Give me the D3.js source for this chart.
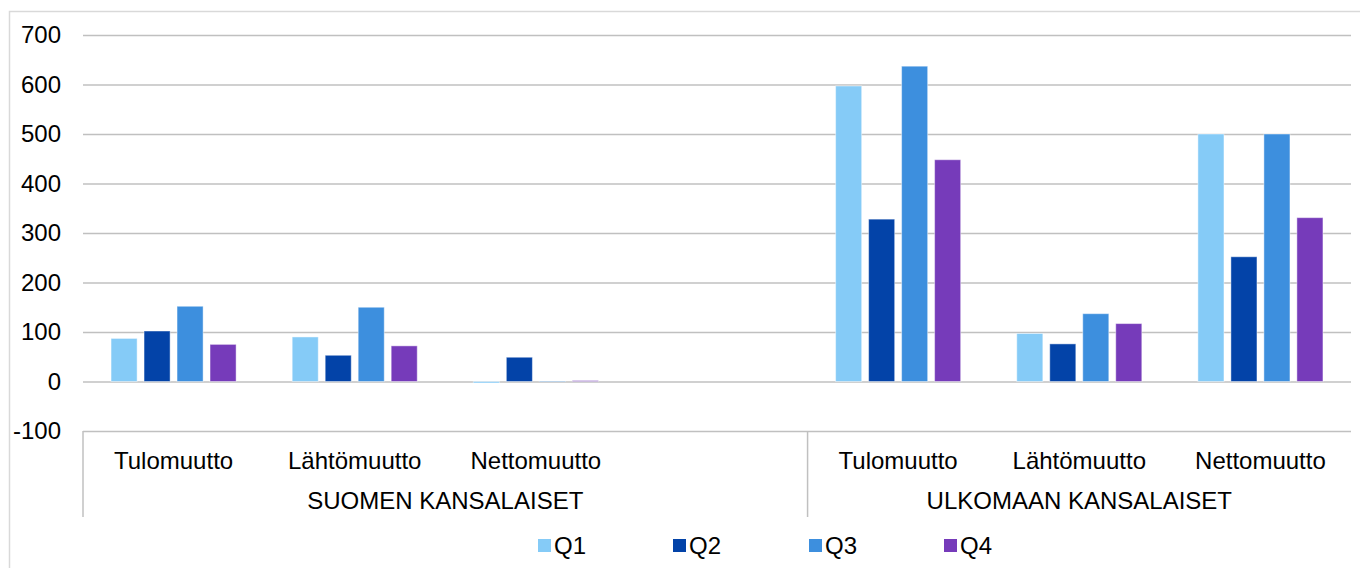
<!DOCTYPE html>
<html>
<head>
<meta charset="utf-8">
<script src="https://cdn.jsdelivr.net/npm/d3@7"></script>
<style>
  body { margin: 0; background: #fff; }
  svg text { font-family: "Liberation Sans", Arial, sans-serif; fill: #000; }
</style>
</head>
<body>
<svg id="chart" width="1360" height="568"></svg>
<script>
// categories (blank slot separates the two groups)
var categories = ['Tulomuutto', 'Lähtömuutto', 'Nettomuutto', '', 'Tulomuutto', 'Lähtömuutto', 'Nettomuutto']
var groups = ['SUOMEN KANSALAISET', 'ULKOMAAN KANSALAISET']
var groupSpans = [4, 3]
var seriesNames = ['Q1', 'Q2', 'Q3', 'Q4']
var q1 = [87, 90, -3, null, 597, 97, 500]
var q2 = [102, 53, 49, null, 328, 76, 252]
var q3 = [152, 150, 1, null, 637, 137, 500]
var q4 = [75, 72, 2, null, 448, 117, 331]
var yTicks = [-100, 0, 100, 200, 300, 400, 500, 600, 700]
var colors = ['#85cbf7', '#0343a8', '#3d8fde', '#763bba']

var series = [q1, q2, q3, q4]

var svg = d3.select('#chart')
var plotLeft = 83, plotRight = 1351, plotTop = 35, plotBottom = 431

// outer frame
svg.append('rect')
  .attr('x', 9.5).attr('y', 11.5)
  .attr('width', 1360).attr('height', 600)
  .attr('fill', 'none')
  .attr('stroke', '#d9d9d9')
  .attr('stroke-width', 1.5)

var y = d3.scaleLinear().domain([-100, 700]).range([plotBottom, plotTop])
var x = d3.scaleBand().domain(d3.range(categories.length)).range([plotLeft, plotRight])
var xInner = d3.scaleBand().domain(d3.range(seriesNames.length))
  .range([0, x.bandwidth()])
  .paddingInner(0.21)
  .paddingOuter(0.85)

// gridlines + y labels (plain hyphen for negatives, like the original)
var yAxis = svg.append('g')
  .attr('transform', 'translate(' + plotLeft + ',0)')
  .call(d3.axisLeft(y).tickValues(yTicks)
    .tickFormat(function (d) { return String(d) })
    .tickSize(-(plotRight - plotLeft)).tickPadding(22))
yAxis.select('.domain').remove()
yAxis.selectAll('line').attr('stroke', '#c0c0c0').attr('stroke-width', 1.5)
yAxis.selectAll('text')
  .style('font-size', '24px')
  .style('font-family', '"Liberation Sans", Arial, sans-serif')
  .attr('fill', '#000')

// bars
series.forEach(function (vals, si) {
  svg.append('g').selectAll('rect')
    .data(vals.map(function (v, i) { return { i: i, v: v } }).filter(function (d) { return d.v !== null }))
    .enter().append('rect')
    .attr('x', function (d) { return x(d.i) + xInner(si) })
    .attr('width', xInner.bandwidth())
    .attr('y', function (d) { return y(Math.max(0, d.v)) })
    .attr('height', function (d) { return Math.max(Math.abs(y(d.v) - y(0)), 0.5) })
    .attr('fill', colors[si])
    .attr('stroke', 'rgba(255,255,255,0.45)')
    .attr('stroke-width', 1)
})

// category axis box lines
var cat = svg.append('g')
var boundaries = [0]
groupSpans.forEach(function (s, gi) { boundaries.push(boundaries[gi] + s) })
boundaries.slice(0, 2).forEach(function (b) {
  cat.append('line')
    .attr('x1', x(b)).attr('x2', x(b))
    .attr('y1', plotBottom).attr('y2', 517)
    .attr('stroke', '#c0c0c0').attr('stroke-width', 1.5)
})

cat.selectAll('text.cat')
  .data(categories)
  .enter().append('text')
  .attr('class', 'cat')
  .attr('x', function (d, i) { return x(i) + x.bandwidth() / 2 })
  .attr('y', 469)
  .attr('text-anchor', 'middle')
  .style('font-size', '24px')
  .text(function (d) { return d })

groups.forEach(function (g, gi) {
  var x0 = x(boundaries[gi])
  var x1 = boundaries[gi + 1] < categories.length ? x(boundaries[gi + 1]) : plotRight
  cat.append('text')
    .attr('x', (x0 + x1) / 2)
    .attr('y', 509)
    .attr('text-anchor', 'middle')
    .style('font-size', '24px')
    .text(g)
})

// legend
var legendX = [538, 673, 809, 944]
var legend = svg.append('g')
seriesNames.forEach(function (n, i) {
  legend.append('rect')
    .attr('x', legendX[i]).attr('y', 539)
    .attr('width', 13).attr('height', 13)
    .attr('fill', colors[i])
  legend.append('text')
    .attr('x', legendX[i] + 16).attr('y', 554)
    .style('font-size', '24px')
    .text(n)
})
</script>
</body>
</html>
